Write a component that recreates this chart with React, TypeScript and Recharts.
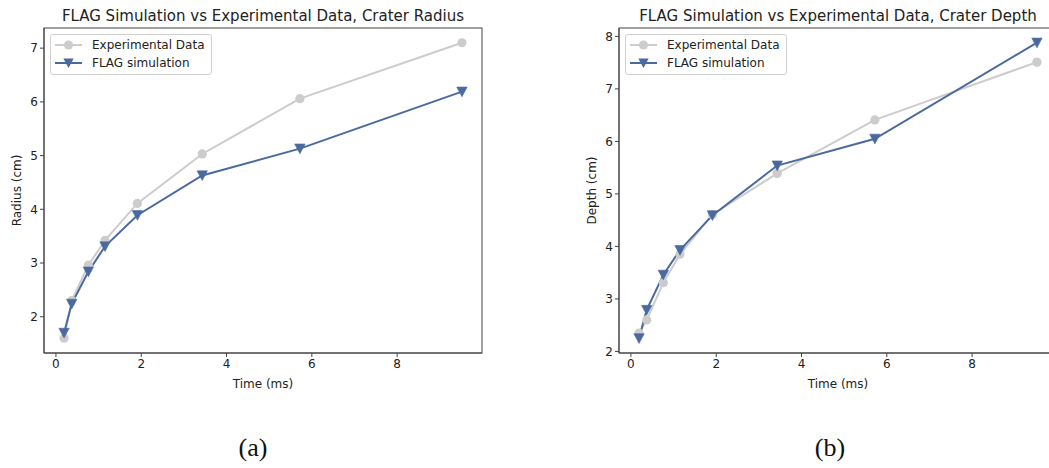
import React from 'react';
import { LineChart, Line, XAxis, YAxis } from 'recharts';

const times = [0.19, 0.37, 0.76, 1.15, 1.91, 3.43, 5.72, 9.52];
const expRadius = [1.6, 2.3, 2.96, 3.42, 4.11, 5.03, 6.06, 7.1];
const flagRadius = [1.7, 2.24, 2.84, 3.31, 3.89, 4.63, 5.13, 6.19];
const expDepth = [2.35, 2.6, 3.31, 3.85, 4.61, 5.39, 6.41, 7.51];
const flagDepth = [2.25, 2.79, 3.46, 3.93, 4.59, 5.54, 6.05, 7.88];

const xTicks = [0, 2, 4, 6, 8];
const radiusTicks = [2, 3, 4, 5, 6, 7];
const depthTicks = [2, 3, 4, 5, 6, 7, 8];

const GRAY = '#cccccc';
const BLUE = '#4a6a9f';
const FONT = 'DejaVu Sans, sans-serif';
const TXT = '#222';
const SPINE = '#444';

const radiusData = times.map((t, i) => ({ t, exp: expRadius[i], flag: flagRadius[i] }));
const depthData = times.map((t, i) => ({ t, exp: expDepth[i], flag: flagDepth[i] }));

const CircleDot = (props: any) => {
  const { cx, cy, index } = props;
  if (cx == null || cy == null) return null;
  return <circle key={`c${index}`} cx={cx} cy={cy} r={4.6} fill={GRAY} stroke="none" />;
};

const TriDot = (props: any) => {
  const { cx, cy, index } = props;
  if (cx == null || cy == null) return null;
  const w = 5.2;
  const h = 4.6;
  return (
    <path
      key={`t${index}`}
      d={`M${cx - w},${cy - h} L${cx + w},${cy - h} L${cx},${cy + h + 0.5} Z`}
      fill={BLUE}
      stroke={BLUE}
      strokeWidth={0.6}
    />
  );
};

const LegendBox = ({ left, top }: { left: number; top: number }) => (
  <div
    style={{
      position: 'absolute',
      left,
      top,
      border: '1px solid #d0d0d0',
      borderRadius: 3,
      background: 'rgba(255,255,255,0.8)',
      padding: '1px 6px 2px 3px',
      fontFamily: FONT,
      fontSize: 12,
      color: TXT,
      lineHeight: '18px',
      width: 'max-content',
    }}
  >
    {[
      { label: 'Experimental Data', color: GRAY, tri: false },
      { label: 'FLAG simulation', color: BLUE, tri: true },
    ].map((e) => (
      <div key={e.label} style={{ display: 'flex', alignItems: 'center', height: 18 }}>
        <svg width={30} height={12} style={{ marginRight: 8 }}>
          <line x1={1} y1={6} x2={28} y2={6} stroke={e.color} strokeWidth={2} />
          {e.tri ? (
            <path d="M9.3,1.6 L19.7,1.6 L14.5,11 Z" fill={e.color} />
          ) : (
            <circle cx={14.5} cy={6} r={4.6} fill={e.color} />
          )}
        </svg>
        <span>{e.label}</span>
      </div>
    ))}
  </div>
);

type PanelProps = {
  data: any[];
  title: string;
  yLabel: string;
  yDomain: [number, number];
  yTicks: number[];
  left: number;
  marginLeft: number;
  marginRight: number;
};

const Panel = ({ data, title, yLabel, yDomain, yTicks, left, marginLeft, marginRight }: PanelProps) => {
  const W = 500;
  const H = 400;
  const plotLeft = marginLeft + 30;
  const plotRight = W - marginRight;
  const cx = (plotLeft + plotRight) / 2;
  return (
    <div style={{ position: 'absolute', left, top: 0, width: W, height: H }}>
      <LineChart
        width={W}
        height={H}
        data={data}
        margin={{ top: 28, right: marginRight, bottom: 17, left: marginLeft }}
      >
        <XAxis
          dataKey="t"
          type="number"
          domain={[-0.28, 9.99]}
          ticks={xTicks}
          allowDataOverflow
          height={30}
          stroke={SPINE}
          tickSize={4}
          tick={{ fill: TXT, fontSize: 12, fontFamily: FONT }}
          tickLine={{ stroke: SPINE }}
          axisLine={{ stroke: SPINE }}
        />
        <YAxis
          type="number"
          domain={yDomain}
          ticks={yTicks}
          allowDataOverflow
          width={30}
          stroke={SPINE}
          tickSize={4}
          tick={{ fill: TXT, fontSize: 12, fontFamily: FONT }}
          tickLine={{ stroke: SPINE }}
          axisLine={{ stroke: SPINE }}
        />
        <Line
          dataKey="exp"
          stroke={GRAY}
          strokeWidth={2}
          dot={CircleDot}
          activeDot={false}
          isAnimationActive={false}
        />
        <Line
          dataKey="flag"
          stroke={BLUE}
          strokeWidth={2}
          dot={TriDot}
          activeDot={false}
          isAnimationActive={false}
        />
      </LineChart>
      <svg
        width={W}
        height={H}
        style={{ position: 'absolute', left: 0, top: 0, pointerEvents: 'none', overflow: 'visible' }}
      >
        <rect
          x={plotLeft}
          y={28}
          width={plotRight - plotLeft}
          height={325}
          fill="none"
          stroke={SPINE}
          strokeWidth={1}
        />
        <text x={cx} y={21} textAnchor="middle" fontFamily={FONT} fontSize={15} fill={TXT}>
          {title}
        </text>
        <text x={cx} y={388} textAnchor="middle" fontFamily={FONT} fontSize={12} fill={TXT}>
          Time (ms)
        </text>
        <text
          x={0}
          y={0}
          transform={`translate(${plotLeft - 23},${190.5}) rotate(-90)`}
          textAnchor="middle"
          fontFamily={FONT}
          fontSize={12}
          fill={TXT}
        >
          {yLabel}
        </text>
      </svg>
      <LegendBox left={plotLeft + 6} top={34} />
    </div>
  );
};

export default function App() {
  return (
    <div
      style={{
        position: 'absolute',
        left: 0,
        top: 0,
        width: 1049,
        height: 468,
        overflow: 'hidden',
        background: '#fff',
      }}
    >
      <Panel
        data={radiusData}
        title="FLAG Simulation vs Experimental Data, Crater Radius"
        yLabel="Radius (cm)"
        yDomain={[1.325, 7.375]}
        yTicks={radiusTicks}
        left={0}
        marginLeft={14}
        marginRight={18}
      />
      <Panel
        data={depthData}
        title="FLAG Simulation vs Experimental Data, Crater Depth"
        yLabel="Depth (cm)"
        yDomain={[1.97, 8.16]}
        yTicks={depthTicks}
        left={560}
        marginLeft={29}
        marginRight={3}
      />
      <div
        style={{
          position: 'absolute',
          left: 203,
          width: 100,
          top: 432,
          textAlign: 'center',
          fontFamily: 'Liberation Serif, DejaVu Serif, serif',
          fontSize: 26,
          lineHeight: '32px',
          color: '#111',
        }}
      >
        (a)
      </div>
      <div
        style={{
          position: 'absolute',
          left: 780,
          width: 100,
          top: 432,
          textAlign: 'center',
          fontFamily: 'Liberation Serif, DejaVu Serif, serif',
          fontSize: 26,
          lineHeight: '32px',
          color: '#111',
        }}
      >
        (b)
      </div>
    </div>
  );
}
